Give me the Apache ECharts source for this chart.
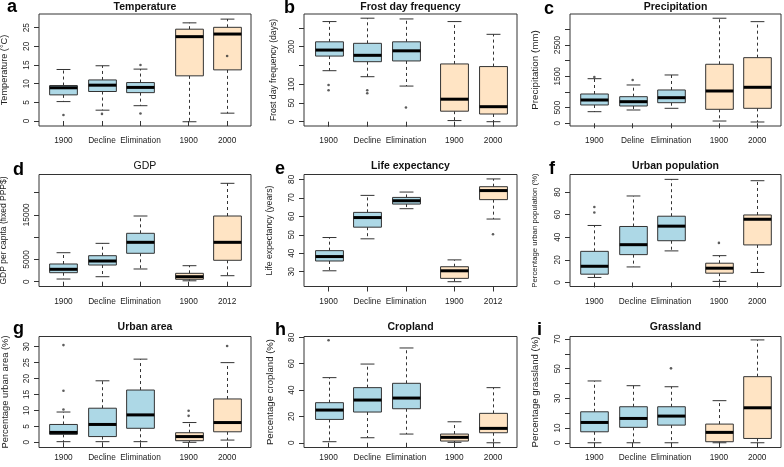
<!DOCTYPE html>
<html><head><meta charset="utf-8">
<script src="https://cdn.jsdelivr.net/npm/echarts@6/dist/echarts.min.js"></script>
<style>html,body{margin:0;padding:0;background:#fff}#c{width:784px;height:467px}</style>
</head><body><div id="c"></div>
<script>
// ---------- data ----------
const xPositions = [1, 2, 3, 4.25, 5.25];
const xLabelsStd = ['1900', 'Decline', 'Elimination', '1900', '2000'];
const xLabelsPrecip = ['1900', 'Deline', 'Elimination', '1900', '2000'];
const xLabels2012 = ['1900', 'Decline', 'Elimination', '1900', '2012'];
const titles = ['Temperature', 'Frost day frequency', 'Precipitation', 'GDP', 'Life expectancy', 'Urban population', 'Urban area', 'Cropland', 'Grassland'];
const letters = ['a', 'b', 'c', 'd', 'e', 'f', 'g', 'h', 'i'];
const yNames = ['Temperature (°C)', 'Frost day frequency (days)', 'Precipitation (mm)', 'GDP per capita (fixed PPP$)', 'Life expectancy (years)', 'Percentage urban population (%)', 'Percentage urban area (%)', 'Percentage cropland (%)', 'Percentage grassland (%)'];

// box stats: [lower whisker, Q1, median, Q3, upper whisker]
const temperatureStats = [[5.2, 7.0, 8.9, 9.5, 13.8], [2.9, 7.9, 9.6, 11.0, 14.8], [4.1, 7.6, 9.0, 10.3, 13.9], [-0.2, 12.1, 22.6, 24.6, 26.3], [2.1, 13.7, 23.3, 25.1, 27.3]];
const temperatureOutliers = [[0, 1.6], [1, 1.9], [2, 2.0], [2, 15.0], [4, 17.4]];
const frostStats = [[136, 175, 191, 213, 267], [120, 160, 177, 209, 276], [95, 162, 189, 213, 274], [3, 28, 60, 154, 267], [0, 20.5, 40, 147, 233]];
const frostOutliers = [[0, 98], [0, 84], [1, 84], [1, 76], [2, 38]];
const precipStats = [[371, 585, 744, 936, 1425], [425, 553, 690, 850, 1224], [479, 658, 818, 1064, 1543], [73, 447, 1032, 1885, 3355], [42, 479, 1150, 2096, 3246]];
const precipOutliers = [[0, 1480], [1, 1383]];
const gdpStats = [[600, 2020, 2780, 3970, 6500], [1120, 3740, 4640, 5830, 8600], [2850, 6370, 8830, 10850, 14730], [200, 540, 1120, 1880, 3590], [1345, 4800, 8830, 14730, 22060]];
const gdpOutliers = [];
const lifeStats = [[30.5, 35.8, 38.2, 41.4, 48.5], [47.8, 54.1, 59.3, 62.1, 71.3], [64.1, 66.6, 68.4, 70.2, 73.1], [24.6, 26.4, 30.5, 32.7, 36.4], [58.5, 69.0, 73.9, 76.0, 80.2]];
const lifeOutliers = [[4, 50.3]];
const urbanPopStats = [[4.4, 7.3, 14.3, 27.5, 50.4], [13.7, 24.6, 33.4, 49.5, 76.5], [27.9, 36.9, 49.8, 58.6, 91.2], [0.9, 8.2, 12.6, 17.0, 23.7], [8.8, 33.2, 55.9, 59.7, 90.0]];
const urbanPopOutliers = [[0, 61.9], [0, 66.8], [3, 35]];
const urbanAreaStats = [[0.2, 2.5, 3.1, 5.6, 9.5], [0.2, 1.8, 5.6, 10.7, 19.3], [0.2, 4.4, 8.6, 16.4, 26.1], [0, 0.5, 1.8, 3.0, 6.2], [0.7, 3.3, 6.2, 13.6, 25.0]];
const urbanAreaOutliers = [[0, 10.3], [0, 16.2], [0, 30.5], [3, 8.3], [3, 9.9], [4, 30.2]];
const croplandStats = [[0.8, 17.7, 24.8, 30.4, 49.4], [3.8, 23.3, 32.4, 41.8, 59.7], [6.6, 25.8, 33.9, 45.1, 71.9], [0.3, 1.3, 4.1, 6.6, 15.9], [0, 7.6, 10.9, 22.3, 41.8]];
const croplandOutliers = [[0, 77.7]];
const grasslandStats = [[0, 7.4, 13.7, 20.9, 41.7], [0, 10.4, 16.4, 24.3, 38.5], [0, 11.9, 18.0, 24.3, 37.8], [0, 0.7, 7.0, 12.6, 28.4], [0, 2.9, 23.6, 44.6, 69.4]];
const grasslandOutliers = [[2, 50.2]];

// y ticks and labels
const temperatureTicks = [0, 5, 10, 15, 20, 25];
const temperatureTickLabels = [0, 5, 10, 15, 20, 25];
const frostTicks = [0, 50, 100, 150, 200, 250];
const frostTickLabels = [0, 50, 100, 200];
const precipTicks = [0, 500, 1000, 1500, 2000, 2500, 3000];
const precipTickLabels = [0, 500, 1500, 2500];
const gdpTicks = [0, 5000, 10000, 15000, 20000];
const gdpTickLabels = [0, 5000, 15000];
const lifeTicks = [30, 40, 50, 60, 70, 80];
const lifeTickLabels = [30, 40, 50, 60, 70, 80];
const urbanPopTicks = [0, 20, 40, 60, 80];
const urbanPopTickLabels = [0, 20, 40, 60, 80];
const urbanAreaTicks = [0, 5, 10, 15, 20, 25, 30];
const urbanAreaTickLabels = [0, 5, 10, 15, 20, 25, 30];
const croplandTicks = [0, 20, 40, 60, 80];
const croplandTickLabels = [0, 20, 40, 60, 80];
const grasslandTicks = [0, 10, 20, 30, 40, 50, 60, 70];
const grasslandTickLabels = [0, 10, 30, 50, 70];

// ---------- layout / style ----------
const FONT = "'Liberation Sans', Arial, sans-serif";
const BLUE = '#ADD8E6', ORANGE = '#FFE4C4';
const colLeft = [39, 304, 570], colWidth = [212, 213, 211];
const rowTop = [14, 174.5, 336.5], rowHeight = [112, 112, 111];
const titleTop = [2, 161, 322];
const xRange = [0.365, 5.87];
const yRanges = [[-1.34, 28.67], [-11.5, 287.2], [-86, 3490], [-1076, 24036], [22.0, 82.6], [-3.6, 95.5], [-1.63, 33.2], [-3.6, 80.6], [-3.2, 71.7]];
const nameGaps = [30, 26, 30, 31, 30, 31, 29, 29, 30];
const nameSizes = [9.2, 8.6, 9.8, 8.5, 8.7, 7.8, 9.4, 9.6, 9.6];
const titleBold = [true, true, true, false, true, true, true, true, true];
const letterPos = [[7, 7], [284, 8], [544, 9], [13, 170], [275, 169], [549, 169], [13, 329], [275, 330], [537, 330]];
const xLabelMargin = [11, 11, 6];

const panelStats = [temperatureStats, frostStats, precipStats, gdpStats, lifeStats, urbanPopStats, urbanAreaStats, croplandStats, grasslandStats];
const panelOutliers = [temperatureOutliers, frostOutliers, precipOutliers, gdpOutliers, lifeOutliers, urbanPopOutliers, urbanAreaOutliers, croplandOutliers, grasslandOutliers];
const panelTicks = [temperatureTicks, frostTicks, precipTicks, gdpTicks, lifeTicks, urbanPopTicks, urbanAreaTicks, croplandTicks, grasslandTicks];
const panelTickLabels = [temperatureTickLabels, frostTickLabels, precipTickLabels, gdpTickLabels, lifeTickLabels, urbanPopTickLabels, urbanAreaTickLabels, croplandTickLabels, grasslandTickLabels];
const panelXLabels = [xLabelsStd, xLabelsStd, xLabelsPrecip, xLabels2012, xLabels2012, xLabelsStd, xLabelsStd, xLabelsStd, xLabelsStd];

function renderBox(params, api) {
  const x = api.value(0);
  const low = api.coord([x, api.value(1)]);
  const q1 = api.coord([x, api.value(2)]);
  const med = api.coord([x, api.value(3)]);
  const q3 = api.coord([x, api.value(4)]);
  const high = api.coord([x, api.value(5)]);
  const bw = api.size([0.72, 0])[0];
  const cw = api.size([0.36, 0])[0];
  const fill = api.value(6) === 0 ? BLUE : ORANGE;
  const cx = Math.round(q1[0]) + 0.5;
  const dash = { stroke: '#333', lineWidth: 1, lineDash: [3, 3] };
  const solid = { stroke: '#333', lineWidth: 1 };
  return {
    type: 'group',
    children: [
      { type: 'line', shape: { x1: cx, y1: q3[1], x2: cx, y2: high[1] }, style: dash },
      { type: 'line', shape: { x1: cx, y1: q1[1], x2: cx, y2: low[1] }, style: dash },
      { type: 'line', shape: { x1: cx - cw / 2, y1: high[1], x2: cx + cw / 2, y2: high[1] }, style: solid },
      { type: 'line', shape: { x1: cx - cw / 2, y1: low[1], x2: cx + cw / 2, y2: low[1] }, style: solid },
      { type: 'rect', shape: { x: cx - bw / 2, y: q3[1], width: bw, height: q1[1] - q3[1] }, style: { fill: fill, stroke: '#333', lineWidth: 1 } },
      { type: 'line', shape: { x1: cx - bw / 2, y1: med[1], x2: cx + bw / 2, y2: med[1] }, style: { stroke: '#000', lineWidth: 3 } }
    ]
  };
}

const grids = [], xAxes = [], yAxes = [], series = [], titleList = [], graphics = [];
for (let p = 0; p < 9; p++) {
  const r = Math.floor(p / 3), c = p % 3;
  grids.push({ left: colLeft[c], top: rowTop[r], width: colWidth[c], height: rowHeight[r], show: true, borderColor: '#333', borderWidth: 1, backgroundColor: 'transparent', containLabel: false, outerBoundsMode: 'none' });
  const xl = panelXLabels[p];
  xAxes.push({
    gridIndex: p, type: 'value', min: xRange[0], max: xRange[1],
    axisLine: { show: false }, splitLine: { show: false },
    axisTick: { show: true, customValues: xPositions, length: 5, inside: false, lineStyle: { color: '#333' } },
    axisLabel: { show: true, customValues: xPositions, margin: xLabelMargin[r], fontSize: 8.3, fontFamily: FONT, color: '#222',
      formatter: (v) => { const i = xPositions.findIndex(q => Math.abs(q - v) < 1e-6); return i >= 0 ? xl[i] : ''; } }
  });
  yAxes.push({
    gridIndex: p, type: 'value', min: yRanges[p][0], max: yRanges[p][1],
    axisLine: { show: false }, splitLine: { show: false },
    axisTick: { show: true, customValues: panelTicks[p], length: 5, inside: false, lineStyle: { color: '#333' } },
    axisLabel: { show: true, customValues: panelTickLabels[p], rotate: 90, margin: 8, fontSize: 8.3, fontFamily: FONT, color: '#222',
      formatter: (v) => String(Math.round(v)) },
    name: yNames[p], nameLocation: 'middle', nameGap: nameGaps[p],
    nameTextStyle: { fontSize: nameSizes[p], fontFamily: FONT, color: '#222' }
  });
  const st = panelStats[p];
  series.push({
    type: 'custom', xAxisIndex: p, yAxisIndex: p, renderItem: renderBox, clip: false,
    encode: { x: 0, y: [1, 2, 3, 4, 5] },
    data: st.map((s, i) => [xPositions[i], s[0], s[1], s[2], s[3], s[4], i < 3 ? 0 : 1]),
    z: 2
  });
  series.push({
    type: 'scatter', xAxisIndex: p, yAxisIndex: p, symbol: 'circle', symbolSize: 2.6,
    itemStyle: { color: '#333' }, silent: true, z: 3,
    data: panelOutliers[p].map(o => [xPositions[o[0]], o[1]])
  });
  titleList.push({
    text: titles[p], left: colLeft[c] + colWidth[c] / 2, textAlign: 'center', top: titleTop[r], padding: 0,
    textStyle: { fontSize: 10.5, fontWeight: titleBold[p] ? 'bold' : 'normal', fontFamily: FONT, color: '#111' }
  });
  graphics.push({
    type: 'text', left: letterPos[p][0], top: letterPos[p][1] - 9,
    style: { text: letters[p], font: "bold 18px " + FONT, fill: '#000' }
  });
}

const chart = echarts.init(document.getElementById('c'), null, { renderer: 'canvas' });
chart.setOption({
  animation: false,
  backgroundColor: '#fff',
  title: titleList,
  grid: grids,
  xAxis: xAxes,
  yAxis: yAxes,
  series: series,
  graphic: graphics
});
</script></body></html>
